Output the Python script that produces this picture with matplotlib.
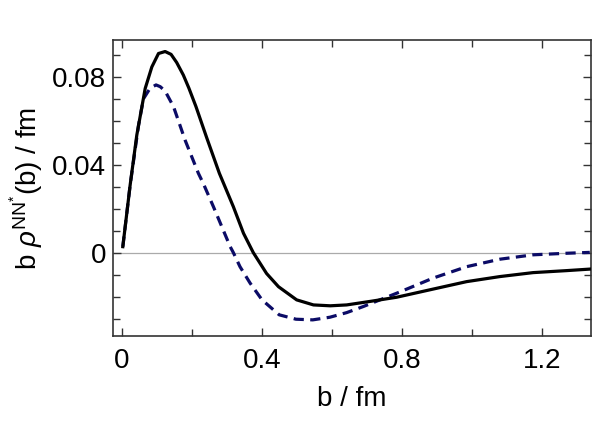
import numpy as np
import matplotlib.pyplot as plt
from matplotlib.ticker import MultipleLocator

plt.rcParams['font.family'] = ['Liberation Sans', 'DejaVu Sans']
plt.rcParams['mathtext.fontset'] = 'custom'
plt.rcParams['mathtext.rm'] = 'Liberation Sans'
plt.rcParams['mathtext.it'] = 'Liberation Sans:italic'

# solid curve
b_solid = [0.002, 0.023, 0.042, 0.066, 0.085, 0.104, 0.123, 0.14, 0.156, 0.175,
           0.191, 0.211, 0.242, 0.278, 0.318, 0.347, 0.375, 0.413, 0.447, 0.499,
           0.547, 0.595, 0.642, 0.709, 0.785, 0.889, 0.985, 1.08, 1.175, 1.27,
           1.337]
rho_solid = [0.0027, 0.0308, 0.0535, 0.0747, 0.0845, 0.0906, 0.0915, 0.0902, 0.0865, 0.0808,
             0.0748, 0.0665, 0.0522, 0.0361, 0.0209, 0.0088, 0.0, -0.0095, -0.0155, -0.0215,
             -0.0238, -0.0242, -0.0238, -0.0222, -0.0203, -0.0166, -0.0132, -0.0109, -0.0091, -0.0082,
             -0.0075]

# dashed curve
b_dash = [0.002, 0.023, 0.047, 0.061, 0.08, 0.097, 0.109, 0.123, 0.147, 0.18,
          0.218, 0.232, 0.261, 0.285, 0.309, 0.318, 0.337, 0.366, 0.40, 0.449,
          0.497, 0.545, 0.594, 0.642, 0.69, 0.737, 0.794, 0.889, 0.985, 1.08,
          1.175, 1.27, 1.337]
rho_dash = [0.0027, 0.0308, 0.058, 0.070, 0.0748, 0.0763, 0.0755, 0.0735, 0.0664, 0.0512,
            0.0361, 0.0315, 0.0209, 0.0118, 0.0027, 0.0, -0.0064, -0.0139, -0.0215, -0.0283,
            -0.0303, -0.0306, -0.0294, -0.0273, -0.0245, -0.0215, -0.0179, -0.0116, -0.0064, -0.003,
            -0.001, -0.0003, 0.0001]

fig = plt.figure(figsize=(5.98, 4.22), dpi=100)
ax = fig.add_axes([0.189, 0.204, 0.799, 0.701])

ax.axhline(0, color='#aaaaaa', lw=0.9, zorder=1)
ax.plot(b_solid, rho_solid, color='black', lw=2.3, zorder=3, solid_joinstyle='round')
ax.plot(b_dash, rho_dash, color='#0b0b66', lw=2.3, ls=(0, (3.2, 2.0)), zorder=2)

ax.set_xlim(-0.026, 1.34)
ax.set_ylim(-0.0379, 0.0967)
ax.xaxis.set_minor_locator(MultipleLocator(0.2))
ax.yaxis.set_minor_locator(MultipleLocator(0.01))
ax.set_xticks([0, 0.4, 0.8, 1.2])
ax.set_xticklabels(['0', '0.4', '0.8', '1.2'])
ax.set_yticks([0, 0.04, 0.08])
ax.set_yticklabels(['0', '0.04', '0.08'])

ax.tick_params(which='both', direction='in', top=True, right=True, labelsize=20,
               color='#333333', width=1)
ax.tick_params(which='major', length=6)
ax.tick_params(which='minor', length=5)
ax.tick_params(axis='x', pad=9)
ax.tick_params(axis='y', pad=5)
for s in ax.spines.values():
    s.set_linewidth(1.2)
    s.set_color('#333333')

ax.set_xlabel('b / fm', fontsize=20, labelpad=8)
ax.set_ylabel(r'b $\it{\rho}^{\mathrm{NN}^{*}}$(b) / fm', fontsize=20, labelpad=4)

fig.savefig('out.png', dpi=100)
